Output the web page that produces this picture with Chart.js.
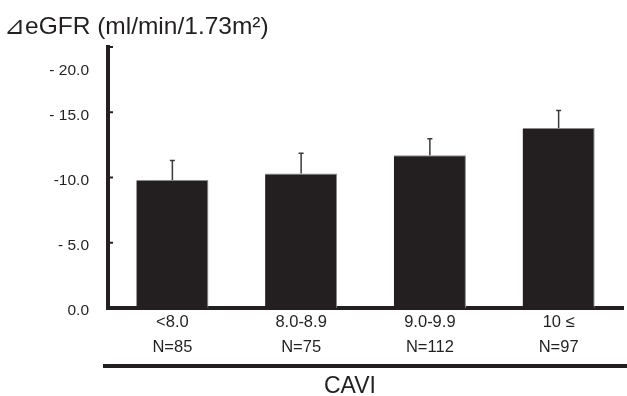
<!DOCTYPE html>
<html>
<head>
<meta charset="utf-8">
<script src="https://cdn.jsdelivr.net/npm/chart.js@4.4.1/dist/chart.umd.min.js"></script>
<style>
html,body{margin:0;padding:0;background:#fff;}
#wrap{width:627px;height:396px;position:relative;}
</style>
</head>
<body>
<div id="wrap"><canvas id="c" width="627" height="396"></canvas></div>
<script>
const categories = ["<8.0", "8.0-8.9", "9.0-9.9", "10 \u2264"];
const groupSizes = ["N=85", "N=75", "N=112", "N=97"];
const meanValues = [9.8, 10.3, 11.7, 13.8];
const errorValues = [1.5, 1.55, 1.27, 1.33];
const yTickValues = [0, 5, 10, 15, 20];
const yTickLabels = ["0.0", "- 5.0", "-10.0", "- 15.0", "- 20.0"];
const yAxisTitle = "\u22BFeGFR (ml/min/1.73m\u00B2)";
const xAxisTitle = "CAVI";

const INK = "#231f20";
const FONT = "'Liberation Sans', Arial, sans-serif";

const decor = {
  id: "decor",
  afterDatasetsDraw(chart) {
    const ctx = chart.ctx;
    const y = chart.scales.y;
    const ca = chart.chartArea;
    ctx.save();
    // error bars
    const meta = chart.getDatasetMeta(0);
    ctx.strokeStyle = "#3a3a3a";
    ctx.lineWidth = 1.5;
    meta.data.forEach((bar, i) => {
      const top = y.getPixelForValue(meanValues[i] + errorValues[i]);
      const base = y.getPixelForValue(meanValues[i]);
      ctx.beginPath();
      ctx.moveTo(bar.x, base);
      ctx.lineTo(bar.x, top);
      ctx.moveTo(bar.x - 2.5, top);
      ctx.lineTo(bar.x + 2.5, top);
      ctx.stroke();
    });
    // inward y ticks
    ctx.strokeStyle = INK;
    ctx.lineWidth = 2;
    yTickValues.forEach(v => {
      if (v === 0) return;
      const py = y.getPixelForValue(v);
      ctx.beginPath();
      ctx.moveTo(ca.left + 1, py);
      ctx.lineTo(ca.left + 5, py);
      ctx.stroke();
    });
    // y labels
    ctx.fillStyle = INK;
    ctx.font = "15.5px " + FONT;
    ctx.textAlign = "right";
    ctx.textBaseline = "middle";
    yTickValues.forEach((v, i) => {
      let py = y.getPixelForValue(v) + 3;
      if (v === 20) py += 21;
      ctx.fillText(yTickLabels[i], ca.left - 19, py);
    });
    // title
    ctx.textAlign = "left";
    ctx.font = "24.5px " + FONT;
    ctx.fillText(yAxisTitle, 4, 27);
    // bottom line
    ctx.strokeStyle = INK;
    ctx.lineWidth = 4;
    ctx.beginPath();
    ctx.moveTo(ca.left - 5, 366);
    ctx.lineTo(627, 366);
    ctx.stroke();
    // x title
    ctx.textAlign = "center";
    ctx.font = "23px " + FONT;
    ctx.fillText(xAxisTitle, 350, 387);
    ctx.restore();
  }
};

new Chart(document.getElementById("c"), {
  type: "bar",
  data: {
    labels: categories.map((c, i) => [c, groupSizes[i]]),
    datasets: [{
      data: meanValues,
      backgroundColor: INK,
      borderColor: "#8a8a8a",
      borderWidth: {top: 1, left: 0, right: 1, bottom: 0},
      categoryPercentage: 1,
      barPercentage: 0.56
    }]
  },
  options: {
    responsive: false,
    animation: false,
    devicePixelRatio: 1,
    layout: {padding: {left: 0, right: 4, top: 47, bottom: 0}},
    plugins: {legend: {display: false}, tooltip: {enabled: false}},
    scales: {
      x: {
        grid: {display: false, drawTicks: false},
        border: {display: true, color: INK, width: 4},
        ticks: {
          color: INK,
          font: {family: FONT, size: 16.5, lineHeight: 1.52},
          padding: 2,
          maxRotation: 0
        },
        afterFit(s) { s.height = 88; }
      },
      y: {
        min: 0, max: 20,
        grid: {display: false, drawTicks: false},
        border: {display: true, color: INK, width: 4},
        ticks: {display: false, stepSize: 5},
        afterFit(s) { s.width = 108; }
      }
    }
  },
  plugins: [decor]
});
</script>
</body>
</html>
